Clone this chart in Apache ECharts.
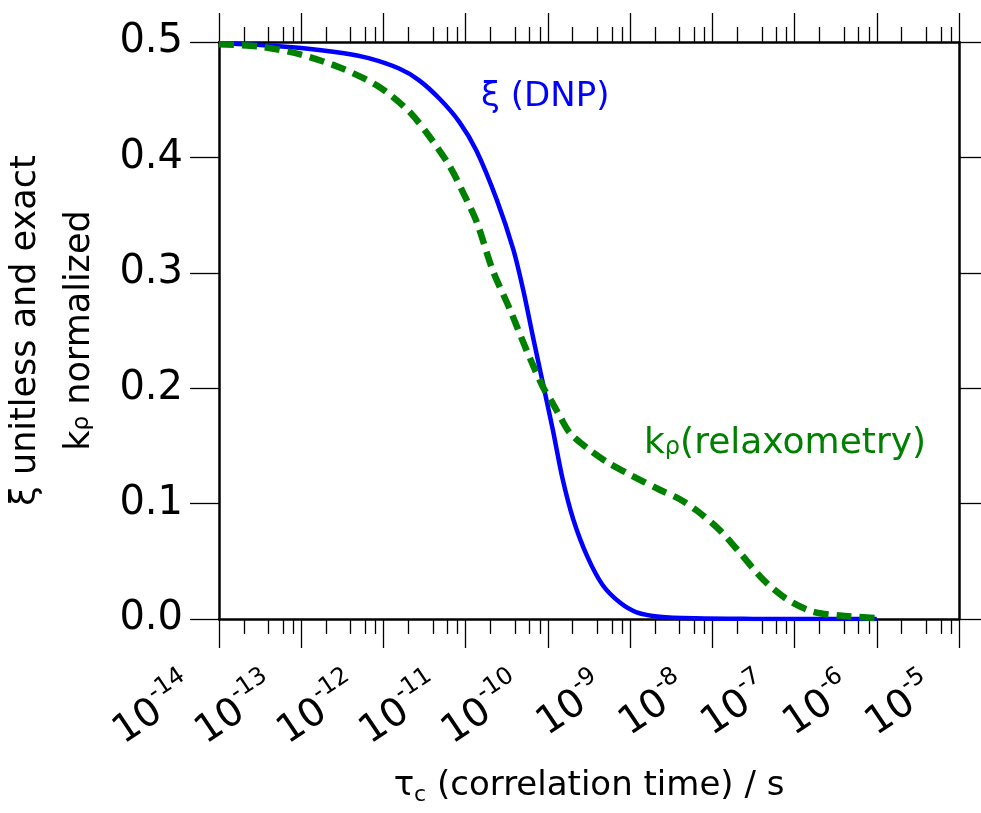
<!DOCTYPE html>
<html>
<head>
<meta charset="utf-8">
<script src="https://cdn.jsdelivr.net/npm/echarts@6/dist/echarts.min.js"></script>
<style>
  html, body { margin: 0; padding: 0; background: #fff; }
  #main { width: 981px; height: 813px; }
</style>
</head>
<body>
<div id="main"></div>
<script>
// xi (DNP) curve: log10(tau_c) and value
var xiLogTau = [-14, -13.5, -13, -12.5, -12.18, -11.81, -11.57, -11.32, -11.08, -10.87, -10.62,
  -10.42, -10.3, -10.18, -10.06, -9.94, -9.82, -9.69, -9.52, -9.33, -9.12, -8.92, -8.64, -8.2, -7.5, -7, -6];
var xiValues = [0.499, 0.4975, 0.4948, 0.4905, 0.486, 0.477, 0.467, 0.451, 0.431, 0.406, 0.363,
  0.32, 0.285, 0.244, 0.204, 0.164, 0.121, 0.086, 0.054, 0.029, 0.014, 0.0058, 0.002, 0.0006, 0.0001, 0.00003, 0];

// k_rho (relaxometry) curve
var kLogTau = [-14, -13.5, -13, -12.5, -12.05, -11.69, -11.45, -11.2, -11.0, -10.86, -10.67, -10.46, -10.26,
  -10.06, -9.95, -9.85, -9.73, -9.52, -9.28, -9.0, -8.64, -8.4, -8.19, -7.91, -7.66, -7.38, -7.09, -6.78, -6.45, -6];
var kValues = [0.498, 0.496, 0.489, 0.477, 0.461, 0.44, 0.419, 0.393, 0.365, 0.343, 0.302, 0.268, 0.233,
  0.201, 0.188, 0.175, 0.161, 0.148, 0.136, 0.125, 0.112, 0.104, 0.094, 0.077, 0.057, 0.034, 0.017, 0.0065, 0.003, 0.0008];

var decades = [-14, -13, -12, -11, -10, -9, -8, -7, -6, -5];
var minorSteps = [2, 4, 6, 8];

var FONT = 'DejaVu Sans';

var majorTicks = decades.map(function (d) { return Math.pow(10, d); });
// labels split over two axes so neighbours never collide in the overlap check
var evenLabels = majorTicks.filter(function (v, i) { return i % 2 === 0; });
var oddLabels = majorTicks.filter(function (v, i) { return i % 2 === 1; });
var minorTicks = [];
for (var i = 0; i < decades.length - 1; i++) {
  for (var j = 0; j < minorSteps.length; j++) {
    minorTicks.push(minorSteps[j] * Math.pow(10, decades[i]));
  }
}

function toPoints(logs, vals) {
  var res = [];
  for (var i = 0; i < logs.length; i++) {
    res.push([Math.pow(10, logs[i]), vals[i]]);
  }
  return res;
}

var myChart = echarts.init(document.getElementById('main'));

var gridRect = { left: 219, right: 22, top: 42, bottom: 194, containLabel: false, outerBoundsMode: 'none' };

function tickLabel(values) {
  return {
    show: true,
    customValues: values,
    rotate: 34,
    margin: 44,
    formatter: function (v) {
      return '{b|10}{s|-' + Math.abs(Math.round(Math.log10(v))) + '}';
    },
    rich: {
      b: { fontFamily: FONT, fontSize: 39, color: '#000', verticalAlign: 'bottom', padding: [8, 0, 0, 0] },
      s: { fontFamily: FONT, fontSize: 24, color: '#000', verticalAlign: 'top', padding: [0, 36, 0, 0] }
    }
  };
}

function xAxisOf(gridIndex, pos, ticks, len, showLine, extra) {
  return Object.assign({
    gridIndex: gridIndex,
    type: 'log',
    logBase: 10,
    min: 1e-14,
    max: 1e-5,
    position: pos,
    splitLine: { show: false },
    axisLine: { show: showLine, onZero: false, lineStyle: { color: '#000', width: 2.5 } },
    axisTick: { show: true, inside: false, length: len, customValues: ticks, lineStyle: { color: '#000', width: 1.3 } },
    axisLabel: { show: false }
  }, extra || {});
}

function yAxisOf(gridIndex, pos, show, extra) {
  return Object.assign({
    gridIndex: gridIndex,
    type: 'value',
    position: pos,
    show: show,
    min: 0,
    max: 0.5,
    interval: 0.1,
    splitLine: { show: false },
    axisLine: { show: true, onZero: false, lineStyle: { color: '#000', width: 2.5 } },
    axisTick: { show: true, inside: false, length: 29, lineStyle: { color: '#000', width: 1.3 } },
    axisLabel: { show: false }
  }, extra || {});
}

var option = {
  backgroundColor: '#fff',
  animation: false,
  grid: [Object.assign({}, gridRect), Object.assign({}, gridRect)],
  xAxis: [
    xAxisOf(0, 'bottom', majorTicks, 29, true, {
      axisLabel: tickLabel(evenLabels),
      name: '{a|τ}{s|c}{a| (correlation time) / s}',
      nameLocation: 'middle',
      nameGap: 150,
      nameMoveOverlap: false,
      nameTextStyle: {
        verticalAlign: 'top',
        rich: {
          a: { fontFamily: FONT, fontSize: 34, color: '#000', verticalAlign: 'top', lineHeight: 37 },
          s: { fontFamily: FONT, fontSize: 22, color: '#000', verticalAlign: 'top', lineHeight: 22, padding: [15, 0, 0, 0] }
        }
      }
    }),
    xAxisOf(0, 'top', majorTicks, 29, true),
    xAxisOf(1, 'bottom', minorTicks, 15, false, { axisLabel: tickLabel(oddLabels) }),
    xAxisOf(1, 'top', minorTicks, 15, false)
  ],
  yAxis: [
    yAxisOf(0, 'left', true, {
      axisLabel: {
        show: true,
        margin: 36,
        fontFamily: FONT,
        fontSize: 40,
        color: '#000',
        formatter: function (v) { return v.toFixed(1); }
      },
      name: '{a|ξ unitless and exact}\n{a|k}{s|ρ}{a| normalized}',
      nameLocation: 'middle',
      nameGap: 103,
      nameTextStyle: {
        align: 'center',
        rich: {
          a: { fontFamily: FONT, fontSize: 35, color: '#000', lineHeight: 54, verticalAlign: 'top' },
          s: { fontFamily: FONT, fontSize: 23, color: '#000', lineHeight: 54, verticalAlign: 'top', padding: [9, 0, 0, 0] }
        }
      }
    }),
    yAxisOf(0, 'right', true),
    yAxisOf(1, 'left', false)
  ],
  graphic: [
    {
      type: 'text',
      left: 481,
      top: 80,
      style: {
        text: 'ξ (DNP)',
        fontFamily: FONT,
        fontSize: 34,
        fill: '#0000ff'
      }
    },
    {
      type: 'text',
      left: 644,
      top: 426,
      style: {
        text: '{a|k}{s|ρ}{a|(relaxometry)}',
        rich: {
          a: { fontFamily: FONT, fontSize: 36, fill: '#008000', lineHeight: 42, verticalAlign: 'top' },
          s: { fontFamily: FONT, fontSize: 24, fill: '#008000', lineHeight: 42, verticalAlign: 'top', padding: [10, 0, 0, 0] }
        }
      }
    }
  ],
  series: [
    {
      name: 'ξ (DNP)',
      type: 'line',
      xAxisIndex: 0,
      yAxisIndex: 0,
      showSymbol: false,
      smooth: 0.3,
      lineStyle: { color: '#0000ff', width: 4.5 },
      data: toPoints(xiLogTau, xiValues),
      z: 3
    },
    {
      name: 'kρ(relaxometry)',
      type: 'line',
      xAxisIndex: 0,
      yAxisIndex: 0,
      showSymbol: false,
      smooth: 0.3,
      lineStyle: { color: '#008000', width: 6.5, type: [15, 8] },
      data: toPoints(kLogTau, kValues),
      z: 4
    }
  ]
};

myChart.setOption(option);
</script>
</body>
</html>
